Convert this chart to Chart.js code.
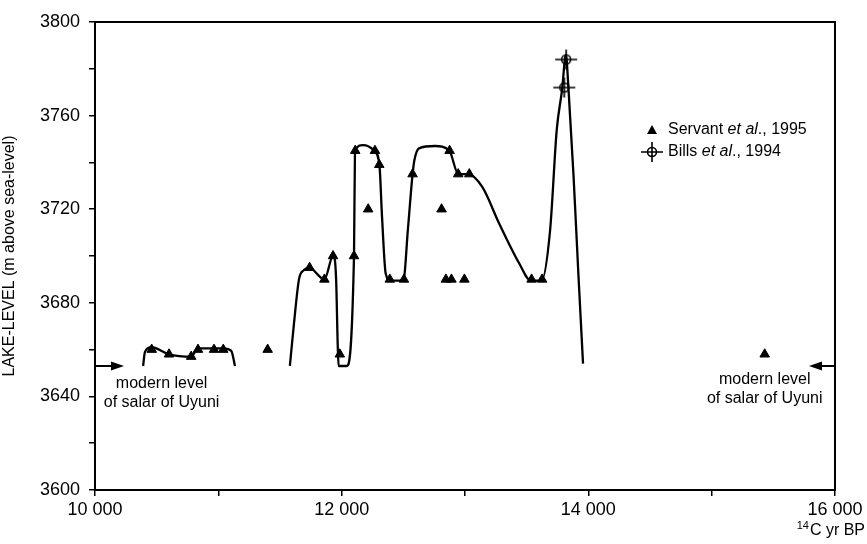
<!DOCTYPE html>
<html>
<head>
<meta charset="utf-8">
<script src="https://cdn.jsdelivr.net/npm/chart.js@4.4.1/dist/chart.umd.min.js"></script>
<style>
	html, body { margin: 0; padding: 0; background: #fff; }
</style>
</head>
<body>
<canvas id="chart" width="867" height="544"></canvas>
<script>
const FONT = "'Liberation Sans', Arial, Helvetica, sans-serif";

// Servant et al., 1995 (triangles)
const servantAge = [10460, 10600, 10780, 10835, 10965, 11040, 11400, 11740, 11860, 11930, 11985, 12100, 12110, 12215, 12270, 12305, 12390, 12505, 12575, 12810, 12845, 12890, 12875, 12945, 12995, 13035, 13540, 13625, 15430];
const servantLevel = [3660, 3658, 3657, 3660, 3660, 3660, 3660, 3695, 3690, 3700, 3658, 3700, 3745, 3720, 3745, 3739, 3690, 3690, 3735, 3720, 3690, 3690, 3745, 3735, 3690, 3735, 3690, 3690, 3658];

// Bills et al., 1994
const billsAge = [13820, 13805];
const billsLevel = [3784, 3772];

// hand drawn lake-level curves
const rimAge = [10390, 10405, 10460, 10600, 10780, 10835, 11040, 11105, 11135];
const rimLevel = [3653, 3659, 3661, 3658, 3657, 3660.5, 3660.5, 3659.5, 3653];

const curveAge = [11580, 11613, 11654, 11695, 11735, 11860, 11932, 11955, 11968, 11975, 12040, 12100, 12108, 12173, 12263, 12306, 12327, 12357, 12395, 12500, 12538, 12575, 12590, 12627, 12757, 12873, 12946, 13027, 13140, 13276, 13438, 13533, 13621, 13690, 13744, 13787, 13818, 13838, 13879, 13919, 13957];
const curveLevel = [3653, 3671, 3690, 3694, 3695, 3690, 3700.4, 3690, 3662, 3653, 3653, 3700, 3745, 3747.4, 3745, 3739, 3717, 3692.5, 3689.5, 3689.5, 3712, 3735, 3741, 3746, 3747, 3745, 3735, 3735, 3729.5, 3714, 3697, 3689.5, 3689.5, 3711, 3754, 3771, 3786, 3772.4, 3735.3, 3692.6, 3654];

const modernLevel = 3653;

const xMin = 10000, xMax = 16000, xStep = 1000;
const yMin = 3600, yMax = 3800, yStep = 20;

function pts(xs, ys) {
	return xs.map((x, i) => ({ x: x, y: ys[i] }));
}

// circle with cross symbol for Bills et al.
function billsSymbol() {
	const c = document.createElement("canvas");
	c.width = 24;
	c.height = 22;
	const g = c.getContext("2d");
	g.strokeStyle = "#000";
	g.lineWidth = 1.6;
	g.beginPath();
	g.arc(12, 11, 4.5, 0, Math.PI * 2);
	g.moveTo(1, 11); g.lineTo(23, 11);
	g.moveTo(12, 1); g.lineTo(12, 21);
	g.stroke();
	return c;
}
const billsImg = billsSymbol();

function arrow(ctx, from, to, y) {
	const dir = Math.sign(to - from);
	ctx.beginPath();
	ctx.moveTo(from, y);
	ctx.lineTo(to - dir * 8, y);
	ctx.stroke();
	ctx.beginPath();
	ctx.moveTo(to, y);
	ctx.lineTo(to - dir * 13, y - 4.5);
	ctx.lineTo(to - dir * 13, y + 4.5);
	ctx.closePath();
	ctx.fill();
}

function legendTriangle(ctx, cx, cy) {
	ctx.beginPath();
	ctx.moveTo(cx, cy - 5);
	ctx.lineTo(cx + 5, cy + 4);
	ctx.lineTo(cx - 5, cy + 4);
	ctx.closePath();
	ctx.fill();
}

function richText(ctx, parts, x, y) {
	parts.forEach((p) => {
		ctx.font = (p.italic ? "italic " : "") + "16px " + FONT;
		ctx.fillText(p.t, x, y);
		x += ctx.measureText(p.t).width;
	});
}

const decor = {
	id: "decor",
	afterDraw(chart) {
		const { ctx, chartArea: a, scales } = chart;
		const xs = scales.x, ys = scales.y;
		ctx.save();
		ctx.strokeStyle = "#000";
		ctx.fillStyle = "#000";
		ctx.lineWidth = 2;
		ctx.strokeRect(a.left, a.top, a.right - a.left, a.bottom - a.top);

		// modern level arrows
		const ym = ys.getPixelForValue(modernLevel);
		arrow(ctx, a.left, a.left + 29, ym);
		arrow(ctx, a.right, a.right - 26, ym);

		ctx.font = "16px " + FONT;
		ctx.textAlign = "center";
		ctx.textBaseline = "middle";
		const lx = xs.getPixelForValue(10540);
		const rx = xs.getPixelForValue(15430);
		ctx.fillText("modern level", lx, ym + 18);
		ctx.fillText("of salar of Uyuni", lx, ym + 37);
		ctx.fillText("modern level", rx, ym + 14);
		ctx.fillText("of salar of Uyuni", rx, ym + 33);

		// legend
		ctx.textAlign = "left";
		const gx = a.left + 557;
		const gy = a.top + 108;
		legendTriangle(ctx, gx, gy);
		richText(ctx, [{ t: "Servant " }, { t: "et al", italic: true }, { t: "., 1995" }], gx + 16, gy);
		ctx.drawImage(billsImg, gx - 12, gy + 22 - 11);
		richText(ctx, [{ t: "Bills " }, { t: "et al", italic: true }, { t: "., 1994" }], gx + 16, gy + 22);

		// x axis title with superscript
		ctx.textAlign = "right";
		ctx.font = "16px " + FONT;
		const main = "C yr BP";
		const right = 865;
		const ty = a.bottom + 41;
		ctx.fillText(main, right, ty);
		const w = ctx.measureText(main).width;
		ctx.font = "11px " + FONT;
		ctx.fillText("14", right - w - 1, ty - 5);
		ctx.restore();
	},
};

new Chart(document.getElementById("chart"), {
	type: "scatter",
	data: {
		datasets: [
			{
				data: pts(servantAge, servantLevel),
				pointStyle: "triangle",
				pointRadius: 5.5,
				backgroundColor: "#000",
				borderColor: "#000",
				borderWidth: 1,
				order: 0,
			},
			{
				data: pts(billsAge, billsLevel),
				pointStyle: billsImg,
				order: 0,
			},
			{
				data: pts(rimAge, rimLevel),
				showLine: true,
				borderColor: "#000",
				borderWidth: 2.3,
				pointRadius: 0,
				cubicInterpolationMode: "monotone",
				order: 1,
			},
			{
				data: pts(curveAge, curveLevel),
				showLine: true,
				borderColor: "#000",
				borderWidth: 2.3,
				pointRadius: 0,
				cubicInterpolationMode: "monotone",
				order: 1,
			},
		],
	},
	options: {
		responsive: false,
		animation: false,
		layout: { padding: { left: 0, right: 32, top: 22, bottom: 0 } },
		plugins: {
			legend: { display: false },
			tooltip: { enabled: false },
		},
		scales: {
			x: {
				type: "linear",
				min: xMin,
				max: xMax,
				border: { color: "#000", width: 2 },
				grid: { drawOnChartArea: false, color: "#000", lineWidth: 1.5, tickLength: 6 },
				ticks: {
					stepSize: xStep,
					autoSkip: false,
					maxRotation: 0,
					color: "#000",
					padding: 3,
					font: { family: FONT, size: 18 },
					callback: (v) => (v % 2000 === 0 ? String(v).replace(/(\d{3})$/, " $1") : ""),
				},
				afterFit: (s) => { s.height = 54; },
			},
			y: {
				min: yMin,
				max: yMax,
				border: { color: "#000", width: 2 },
				grid: { drawOnChartArea: false, color: "#000", lineWidth: 1.5, tickLength: 6 },
				ticks: {
					stepSize: yStep,
					autoSkip: false,
					color: "#000",
					padding: 9,
					font: { family: FONT, size: 18 },
					callback: (v) => (v % 40 === 0 ? String(v) : ""),
				},
				title: {
					display: true,
					text: "LAKE-LEVEL (m above sea-level)",
					color: "#000",
					font: { family: FONT, size: 16 },
					padding: { top: 0, bottom: 0 },
				},
				afterFit: (s) => { s.width = 95; },
			},
		},
	},
	plugins: [decor],
});
</script>
</body>
</html>
